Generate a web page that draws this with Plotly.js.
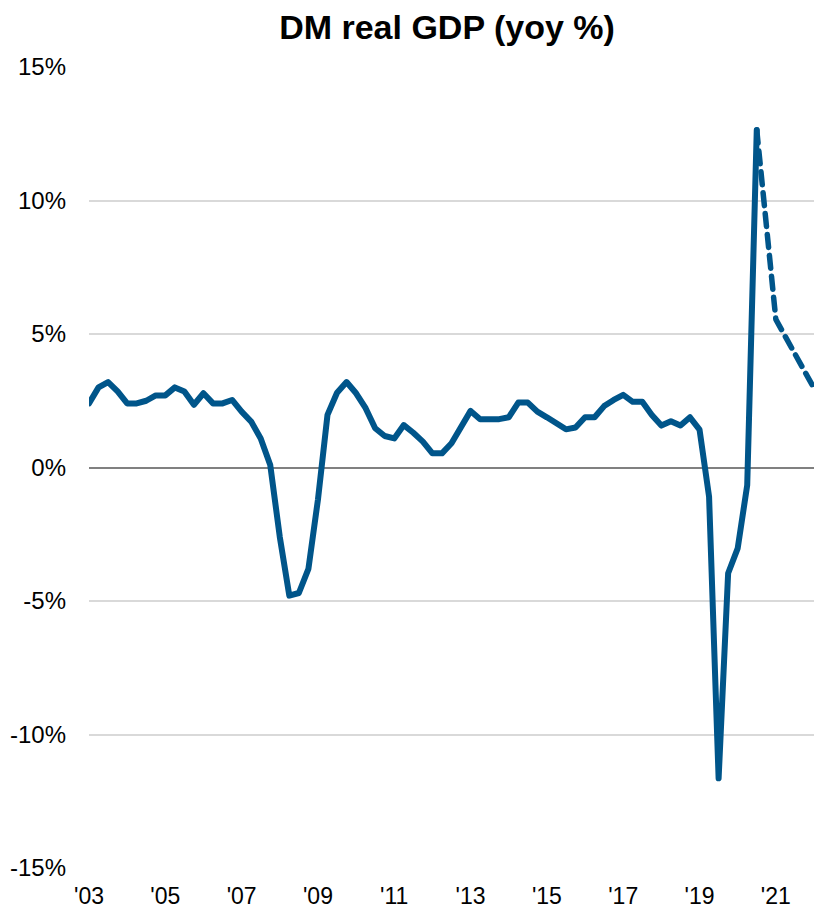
<!DOCTYPE html>
<html>
<head>
<meta charset="utf-8">
<script src="https://cdn.plot.ly/plotly-3.0.1.min.js"></script>
<style>
  html, body { margin: 0; padding: 0; background: #fff; }
  #chart { width: 814px; height: 911px; }
  path.js-line { stroke-linejoin: round !important; stroke-linecap: round !important; }
</style>
</head>
<body>
<div id="chart"></div>
<script>
// Quarter labels (chart's own time axis), actual series (solid) and forecast (dashed)
const actualQuarters = [
  "2003Q1","2003Q2","2003Q3","2003Q4","2004Q1","2004Q2","2004Q3","2004Q4",
  "2005Q1","2005Q2","2005Q3","2005Q4","2006Q1","2006Q2","2006Q3","2006Q4",
  "2007Q1","2007Q2","2007Q3","2007Q4","2008Q1","2008Q2","2008Q3","2008Q4",
  "2009Q1","2009Q2","2009Q3","2009Q4","2010Q1","2010Q2","2010Q3","2010Q4",
  "2011Q1","2011Q2","2011Q3","2011Q4","2012Q1","2012Q2","2012Q3","2012Q4",
  "2013Q1","2013Q2","2013Q3","2013Q4","2014Q1","2014Q2","2014Q3","2014Q4",
  "2015Q1","2015Q2","2015Q3","2015Q4","2016Q1","2016Q2","2016Q3","2016Q4",
  "2017Q1","2017Q2","2017Q3","2017Q4","2018Q1","2018Q2","2018Q3","2018Q4",
  "2019Q1","2019Q2","2019Q3","2019Q4","2020Q1","2020Q2","2020Q3"
];
const actualGdp = [
  2.4, 3.0, 3.2, 2.85, 2.4, 2.4, 2.5, 2.7,
  2.7, 3.0, 2.85, 2.35, 2.78, 2.4, 2.4, 2.53,
  2.09, 1.72, 1.09, 0.09, -2.6, -4.8, -4.7, -3.8,
  -1.2, 1.97, 2.8, 3.2, 2.78, 2.22, 1.47, 1.18,
  1.09, 1.59, 1.3, 0.97, 0.53, 0.53, 0.91, 1.53,
  2.12, 1.81, 1.81, 1.81, 1.88, 2.43, 2.43, 2.09,
  1.88, 1.66, 1.43, 1.5, 1.88, 1.88, 2.3, 2.53,
  2.72, 2.46, 2.46, 1.97, 1.57, 1.73, 1.57, 1.88,
  1.42, -1.09, -11.64, -3.96, -3.03, -0.66, 12.64
];
const forecastQuarters = ["2020Q3","2020Q4","2021Q1","2021Q2","2021Q3","2021Q4","2022Q1"];
const forecastGdp = [12.64, 9.2, 5.55, 4.9, 4.25, 3.6, 2.97];

const tickYears = [2003, 2005, 2007, 2009, 2011, 2013, 2015, 2017, 2019, 2021];
const tickLabels = ["'03","'05","'07","'09","'11","'13","'15","'17","'19","'21"];
const yTicks = [-15, -10, -5, 0, 5, 10, 15];
const yTickLabels = ["-15%","-10%","-5%","0%","5%","10%","15%"];

function qToYear(q) {
  const y = parseInt(q.slice(0, 4), 10);
  const n = parseInt(q.slice(5), 10);
  return y + (n - 1) / 4;
}

const lineColor = "#00558A";
const FONT = "Liberation Sans, Arial, Helvetica, sans-serif";

const traces = [
  {
    x: actualQuarters.map(qToYear), y: actualGdp,
    type: "scatter", mode: "lines",
    line: { color: lineColor, width: 6 },
    hoverinfo: "skip", showlegend: false
  },
  {
    x: forecastQuarters.map(qToYear), y: forecastGdp,
    type: "scatter", mode: "lines",
    line: { color: lineColor, width: 5.5, dash: "13px,8px" },
    hoverinfo: "skip", showlegend: false
  }
];

const layout = {
  width: 814, height: 911,
  margin: { l: 89, r: 0, t: 67, b: 43 },
  paper_bgcolor: "#ffffff", plot_bgcolor: "#ffffff",
  font: { family: FONT, color: "#000000" },
  title: {
    text: "<b>DM real GDP (yoy %)</b>",
    font: { family: FONT, size: 34, color: "#000000" },
    x: 447 / 814, xref: "container", xanchor: "center",
    y: 1 - 27 / 911, yref: "container", yanchor: "middle"
  },
  xaxis: {
    range: [2003, 2022],
    tickmode: "array", tickvals: tickYears, ticktext: tickLabels,
    showgrid: false, zeroline: false, showline: false,
    ticks: "", ticklabelstandoff: 12,
    tickfont: { family: FONT, size: 23, color: "#000000" },
    fixedrange: true
  },
  yaxis: {
    range: [-15, 15],
    tickmode: "array", tickvals: yTicks, ticktext: yTickLabels,
    showgrid: true, gridcolor: "#d9d9d9", gridwidth: 2,
    zeroline: true, zerolinecolor: "#808080", zerolinewidth: 2,
    showline: false, ticks: "", ticklabelstandoff: 22,
    tickfont: { family: FONT, size: 24, color: "#000000" },
    fixedrange: true
  }
};

Plotly.newPlot("chart", traces, layout, { displayModeBar: false, staticPlot: true });
</script>
</body>
</html>
